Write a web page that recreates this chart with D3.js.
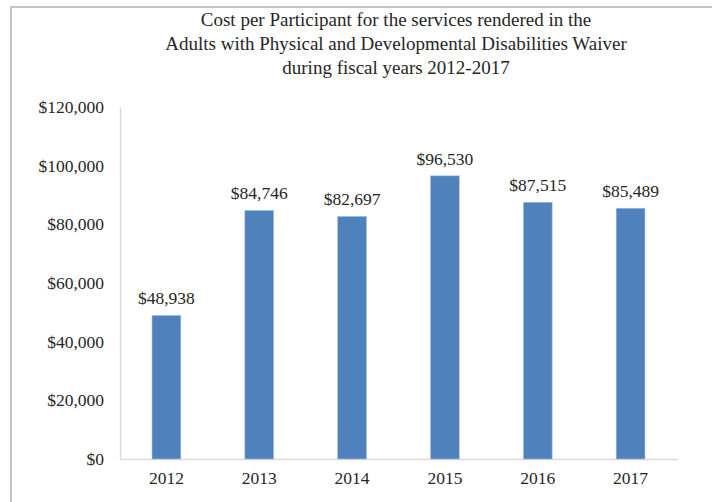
<!DOCTYPE html>
<html>
<head>
<meta charset="utf-8">
<script src="https://cdn.jsdelivr.net/npm/d3@7"></script>
<style>
  body { margin: 0; background: #fff; }
  svg text { font-family: "Liberation Serif", "Times New Roman", serif; fill: #262626; }
</style>
</head>
<body>
<svg id="chart"></svg>
<script>
const years = ["2012", "2013", "2014", "2015", "2016", "2017"];
const costs = [48938, 84746, 82697, 96530, 87515, 85489];
const yTicks = [0, 20000, 40000, 60000, 80000, 100000, 120000];
const titleLines = [
  "Cost per Participant for the services rendered in the",
  "Adults with Physical and Developmental Disabilities  Waiver",
  "during fiscal years 2012-2017"
];

const W = 712, H = 502;
const margin = {top: 107, right: 35, bottom: 43, left: 120};
const width = W - margin.left - margin.right;
const height = H - margin.top - margin.bottom;
const serif = "'Liberation Serif', 'Times New Roman', serif";

const svg = d3.select("#chart").attr("width", W).attr("height", H);

// frame (only top and left edges are inside the picture)
svg.append("path")
  .attr("d", `M11,${H} L11,7 L${W},7`)
  .attr("fill", "none")
  .attr("stroke", "#c4c4c4")
  .attr("stroke-width", 2);

svg.append("g")
  .selectAll("text")
  .data(titleLines)
  .enter()
  .append("text")
  .attr("x", 396)
  .attr("y", (d, i) => 26 + i * 24)
  .attr("text-anchor", "middle")
  .style("font-size", "19px")
  .text(d => d);

const g = svg.append("g")
  .attr("transform", `translate(${margin.left}, ${margin.top})`);

const xScale = d3.scaleBand()
  .domain(years)
  .range([0, width])
  .paddingInner(0.69)
  .paddingOuter(0.345);

const yScale = d3.scaleLinear()
  .domain([0, 120000])
  .range([height, 0]);

const yAxis = d3.axisLeft(yScale)
  .tickValues(yTicks)
  .tickSize(0)
  .tickPadding(16)
  .tickFormat(d => "$" + d3.format(",")(d));

const yG = g.append("g").call(yAxis);
yG.select(".domain").attr("stroke", "#d9d9d9").attr("stroke-width", 1.5);
yG.selectAll("text")
  .style("font-size", "17.5px")
  .style("font-family", serif)
  .attr("fill", "#262626");

const xAxis = d3.axisBottom(xScale).tickSize(0).tickPadding(13);
const xG = g.append("g")
  .attr("transform", `translate(0, ${height})`)
  .call(xAxis);
xG.select(".domain").attr("stroke", "#d9d9d9").attr("stroke-width", 1.5);
xG.selectAll("text")
  .style("font-size", "17.5px")
  .style("font-family", serif)
  .attr("fill", "#262626");

g.selectAll("rect.bar")
  .data(costs)
  .enter()
  .append("rect")
  .attr("class", "bar")
  .attr("x", (d, i) => xScale(years[i]))
  .attr("y", d => yScale(d))
  .attr("width", xScale.bandwidth())
  .attr("height", d => height - yScale(d))
  .attr("fill", "#4f81bd")
  .attr("stroke", "#a7c0de")
  .attr("stroke-width", 0.6);

g.selectAll("text.value")
  .data(costs)
  .enter()
  .append("text")
  .attr("class", "value")
  .attr("x", (d, i) => xScale(years[i]) + xScale.bandwidth() / 2)
  .attr("y", d => yScale(d) - 11)
  .attr("text-anchor", "middle")
  .style("font-size", "17.5px")
  .text(d => "$" + d3.format(",")(d));
</script>
</body>
</html>
